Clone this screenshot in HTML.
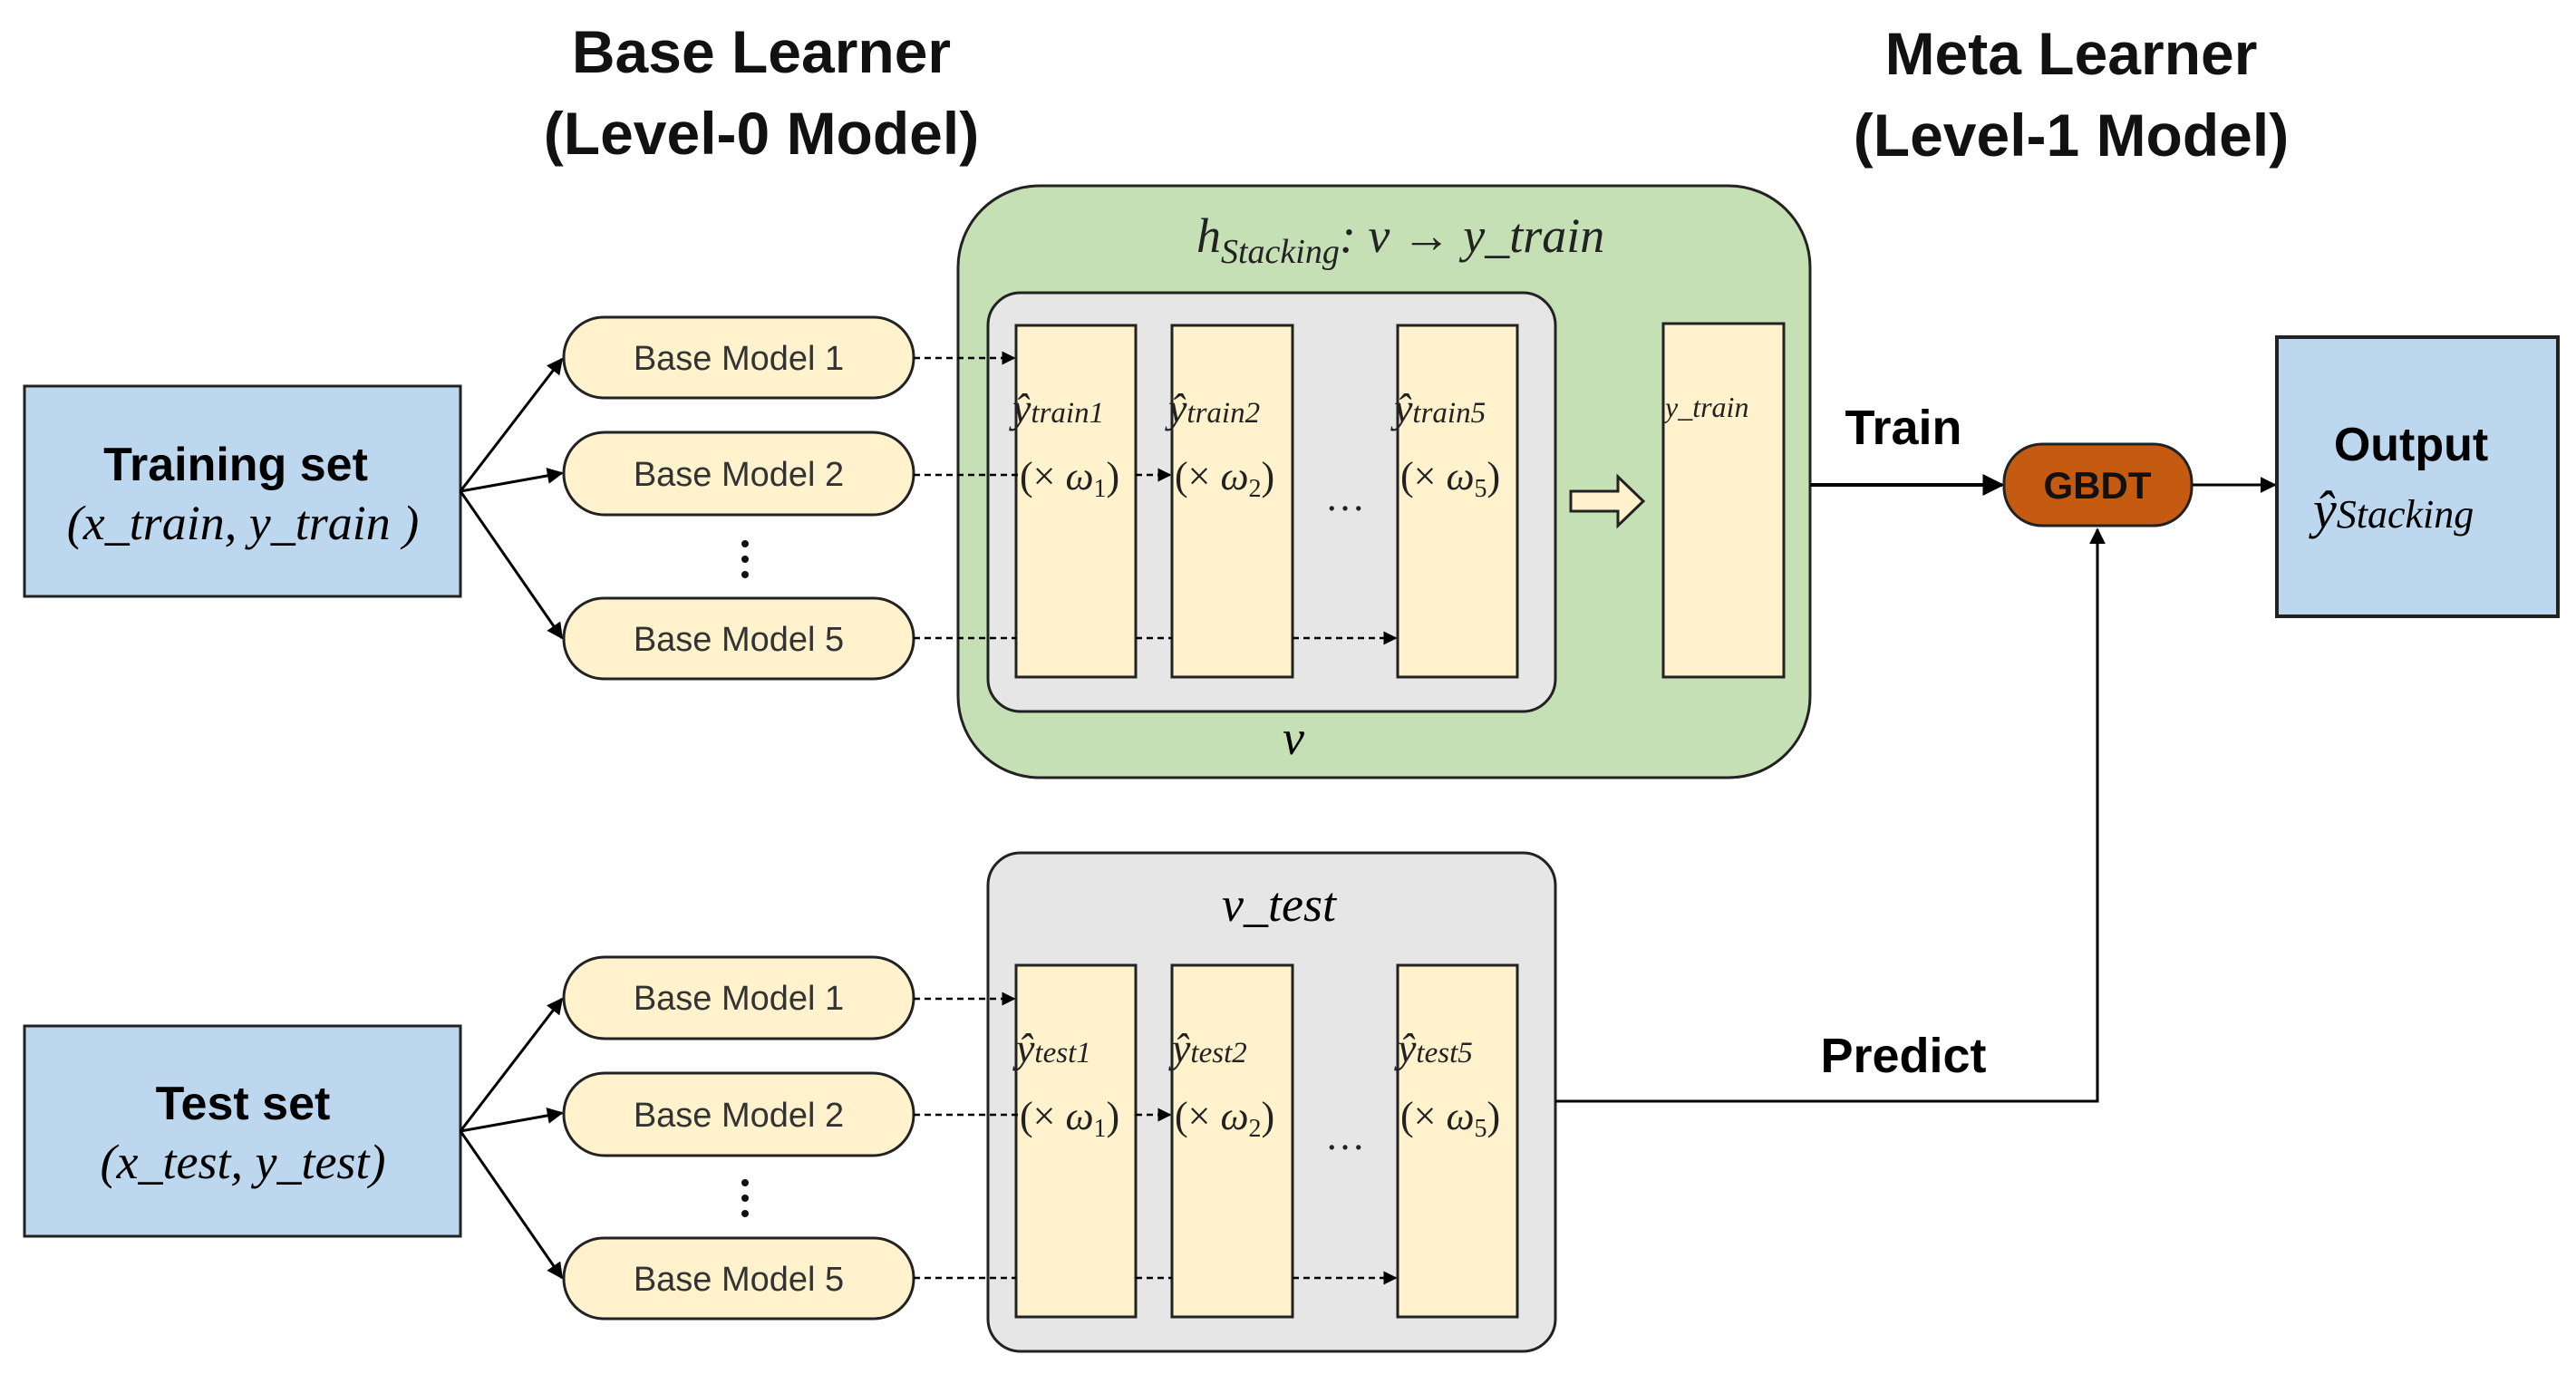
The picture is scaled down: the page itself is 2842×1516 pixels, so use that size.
<!DOCTYPE html>
<html><head><meta charset="utf-8"><style>
html,body{margin:0;padding:0;background:#fff}
svg{display:block}
.s{font-family:"Liberation Sans",sans-serif}
.m{font-family:"Liberation Serif",serif;font-style:italic}
</style></head><body>
<svg width="2842" height="1516" viewBox="0 0 2842 1516" xmlns="http://www.w3.org/2000/svg">
<defs>
<marker id="a" viewBox="0 0 10 10" refX="9" refY="5" markerWidth="6" markerHeight="6" orient="auto"><path d="M0,0L10,5L0,10z" fill="#000"/></marker>
</defs>
<g class="s" font-weight="bold" font-size="66" text-anchor="middle" fill="#111">
<text x="840" y="80">Base Learner</text>
<text x="840" y="170">(Level-0 Model)</text>
<text x="2285" y="82">Meta Learner</text>
<text x="2285" y="172">(Level-1 Model)</text>
</g>
<rect x="1057" y="205" width="940" height="653" rx="90" fill="#c5e0b4" stroke="#222" stroke-width="3"/>
<rect x="1090" y="323" width="626" height="462" rx="36" fill="#e6e6e6" stroke="#222" stroke-width="3"/>
<rect x="1090" y="941" width="626" height="550" rx="36" fill="#e6e6e6" stroke="#222" stroke-width="3"/>
<rect x="27" y="426" width="481" height="232" fill="#bdd7ee" stroke="#222" stroke-width="3"/>
<rect x="27" y="1132" width="481" height="232" fill="#bdd7ee" stroke="#222" stroke-width="3"/>
<text x="260" y="530" class="s" font-weight="bold" font-size="52" text-anchor="middle">Training set</text>
<text x="268" y="595" class="m" font-size="54" text-anchor="middle">(x_train, y_train )</text>
<text x="268" y="1235" class="s" font-weight="bold" font-size="52" text-anchor="middle">Test set</text>
<text x="268" y="1300" class="m" font-size="54" text-anchor="middle">(x_test, y_test)</text>
<g stroke="#000" stroke-width="3" fill="none" marker-end="url(#a)">
<path d="M508,542L620,396"/><path d="M508,542L620,522"/><path d="M508,542L620,704"/>
<path d="M508,1248L620,1102"/><path d="M508,1248L620,1228"/><path d="M508,1248L620,1410"/>
</g>
<g fill="#fff2cc" stroke="#222" stroke-width="3">
<rect x="622" y="350" width="386" height="89" rx="44"/>
<rect x="622" y="477" width="386" height="91" rx="45"/>
<rect x="622" y="660" width="386" height="89" rx="44"/>
<rect x="622" y="1056" width="386" height="90" rx="45"/>
<rect x="622" y="1184" width="386" height="91" rx="45"/>
<rect x="622" y="1366" width="386" height="89" rx="44"/>
</g>
<g class="s" font-size="38" text-anchor="middle" fill="#333">
<text x="815" y="408">Base Model 1</text>
<text x="815" y="536">Base Model 2</text>
<text x="815" y="718">Base Model 5</text>
<text x="815" y="1114">Base Model 1</text>
<text x="815" y="1243">Base Model 2</text>
<text x="815" y="1424">Base Model 5</text>
</g>
<g fill="#111"><circle cx="822" cy="600" r="4"/><circle cx="822" cy="617" r="4"/><circle cx="822" cy="634" r="4"/>
<circle cx="822" cy="1305" r="4"/><circle cx="822" cy="1322" r="4"/><circle cx="822" cy="1339" r="4"/></g>
<g fill="#fff2cc" stroke="#222" stroke-width="3">
<rect x="1121" y="359" width="132" height="388"/><rect x="1293" y="359" width="133" height="388"/><rect x="1542" y="359" width="132" height="388"/>
<rect x="1835" y="357" width="133" height="390"/>
<rect x="1121" y="1065" width="132" height="388"/><rect x="1293" y="1065" width="133" height="388"/><rect x="1542" y="1065" width="132" height="388"/>
</g>
<g stroke="#000" stroke-width="2.5" stroke-dasharray="7,5" fill="none">
<path d="M1008,395H1119" marker-end="url(#a)"/>
<path d="M1008,524H1125"/><path d="M1253,524H1291" marker-end="url(#a)"/>
<path d="M1008,704H1121"/><path d="M1253,704H1293"/><path d="M1426,704H1540" marker-end="url(#a)"/>
<path d="M1008,1102H1119" marker-end="url(#a)"/>
<path d="M1008,1230H1125"/><path d="M1253,1230H1291" marker-end="url(#a)"/>
<path d="M1008,1410H1121"/><path d="M1253,1410H1293"/><path d="M1426,1410H1540" marker-end="url(#a)"/>
</g>
<g class="m" font-size="46" fill="#222">
<text x="1117" y="466">ŷ<tspan font-size="33">train1</tspan></text>
<text x="1289" y="466">ŷ<tspan font-size="33">train2</tspan></text>
<text x="1538" y="466">ŷ<tspan font-size="33">train5</tspan></text>
<text x="1121" y="1172">ŷ<tspan font-size="33">test1</tspan></text>
<text x="1293" y="1172">ŷ<tspan font-size="33">test2</tspan></text>
<text x="1542" y="1172">ŷ<tspan font-size="33">test5</tspan></text>
<text x="1837" y="460" font-size="32">y_train</text>
</g>
<g font-family="Liberation Serif,serif" font-size="44" fill="#222">
<text x="1125" y="540">(× <tspan font-style="italic">ω</tspan><tspan font-size="28" dy="8">1</tspan><tspan dy="-8">)</tspan></text>
<text x="1296" y="540">(× <tspan font-style="italic">ω</tspan><tspan font-size="28" dy="8">2</tspan><tspan dy="-8">)</tspan></text>
<text x="1545" y="540">(× <tspan font-style="italic">ω</tspan><tspan font-size="28" dy="8">5</tspan><tspan dy="-8">)</tspan></text>
<text x="1125" y="1246">(× <tspan font-style="italic">ω</tspan><tspan font-size="28" dy="8">1</tspan><tspan dy="-8">)</tspan></text>
<text x="1296" y="1246">(× <tspan font-style="italic">ω</tspan><tspan font-size="28" dy="8">2</tspan><tspan dy="-8">)</tspan></text>
<text x="1545" y="1246">(× <tspan font-style="italic">ω</tspan><tspan font-size="28" dy="8">5</tspan><tspan dy="-8">)</tspan></text>
<text x="1484" y="563" text-anchor="middle">…</text>
<text x="1484" y="1268" text-anchor="middle">…</text>
</g>
<path d="M1733,542H1785V526L1813,553L1785,580V564H1733Z" fill="#fff2cc" stroke="#222" stroke-width="3"/>
<text x="1320" y="278" class="m" font-size="54" fill="#222">h<tspan font-size="38" dy="12">Stacking</tspan><tspan dy="-12">: v → y_train</tspan></text>
<text x="1427" y="832" class="m" font-size="54" text-anchor="middle">v</text>
<text x="1411" y="1016" class="m" font-size="54" text-anchor="middle">v_test</text>
<path d="M1997,535H2209" stroke="#000" stroke-width="4" marker-end="url(#a)"/>
<path d="M1716,1215H2314V584" stroke="#000" stroke-width="3" fill="none" marker-end="url(#a)"/>
<path d="M2418,535H2510" stroke="#000" stroke-width="3" marker-end="url(#a)"/>
<rect x="2211" y="490" width="207" height="90" rx="42" fill="#c55a11" stroke="#222" stroke-width="3"/>
<text x="2314" y="550" class="s" font-weight="bold" font-size="42" text-anchor="middle" fill="#111">GBDT</text>
<text x="2100" y="490" class="s" font-weight="bold" font-size="54" text-anchor="middle">Train</text>
<text x="2100" y="1183" class="s" font-weight="bold" font-size="54" text-anchor="middle">Predict</text>
<rect x="2512" y="372" width="310" height="308" fill="#bdd7ee" stroke="#222" stroke-width="4"/>
<text x="2660" y="508" class="s" font-weight="bold" font-size="52" text-anchor="middle">Output</text>
<text x="2552" y="582" class="m" font-size="58">ŷ<tspan font-size="44">Stacking</tspan></text>
</svg>
</body></html>
